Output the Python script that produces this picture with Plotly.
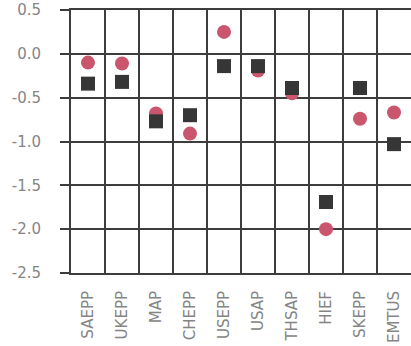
import plotly.graph_objects as go

categories = ["SAEPP", "UKEPP", "MAP", "CHEPP", "USEPP", "USAP", "THSAP", "HIEF", "SKEPP", "EMTUS"]
circle_values = [-0.10, -0.11, -0.68, -0.91, 0.25, -0.19, -0.45, -2.00, -0.74, -0.67]
square_values = [-0.34, -0.32, -0.77, -0.70, -0.14, -0.14, -0.39, -1.69, -0.39, -1.03]
y_tick_values = [0.5, 0.0, -0.5, -1.0, -1.5, -2.0, -2.5]
y_tick_labels = ["0.5", "0.0", "-0.5", "-1.0", "-1.5", "-2.0", "-2.5"]

fig = go.Figure()
fig.add_trace(go.Scatter(
    x=categories, y=circle_values, mode="markers",
    marker=dict(symbol="circle", size=14, color="#c9566c", line=dict(width=0)),
    showlegend=False,
))
fig.add_trace(go.Scatter(
    x=categories, y=square_values, mode="markers",
    marker=dict(symbol="square", size=14, color="#363636", line=dict(width=0)),
    showlegend=False,
))

grid = "#3d3d3d"
label_color = "#858585"
fig.update_layout(
    width=411, height=346,
    margin=dict(l=71, r=0, t=10, b=73),
    paper_bgcolor="white", plot_bgcolor="white",
    font=dict(family="DejaVu Sans, sans-serif", color=label_color, size=15),
    xaxis=dict(
        type="category", tickson="boundaries", showgrid=True,
        gridcolor=grid, gridwidth=2, tickangle=-90,
        ticks="", showline=True, linecolor=grid, linewidth=2, mirror=True,
        tickfont=dict(size=15, color=label_color),
        range=[-0.5, 9.5], automargin=False,
        ticklabelstandoff=10,
    ),
    yaxis=dict(
        range=[-2.5, 0.5], tickvals=y_tick_values, ticktext=y_tick_labels,
        showgrid=True, gridcolor=grid, gridwidth=2, zeroline=False,
        ticks="outside", ticklen=9, tickwidth=2, tickcolor=grid,
        showline=True, linecolor=grid, linewidth=2,
        tickfont=dict(size=15, color=label_color),
        ticklabelstandoff=16, automargin=False,
    ),
)

fig.write_html(
    "out.html",
    config={"displayModeBar": False},
    post_script="document.body.style.margin='0';document.body.style.overflow='hidden';",
)
